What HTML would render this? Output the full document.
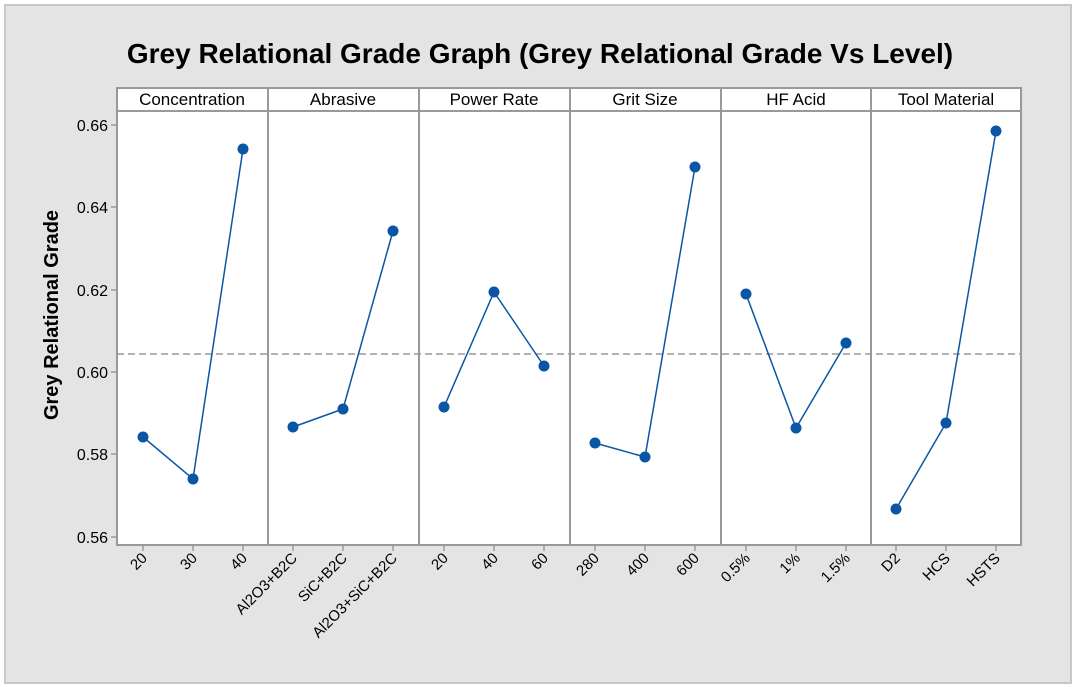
<!DOCTYPE html>
<html><head><meta charset="utf-8"><style>
html,body{margin:0;padding:0;background:#fff;}
svg{display:block;font-family:"Liberation Sans",sans-serif;}
</style></head><body>
<svg width="1076" height="687" viewBox="0 0 1076 687" xmlns="http://www.w3.org/2000/svg">
<rect x="0" y="0" width="1076" height="687" fill="#fff"/>
<rect x="5" y="5" width="1066" height="678" fill="#e4e4e4" stroke="#c8c8c8" stroke-width="2"/>
<text x="540" y="63" text-anchor="middle" font-size="28" font-weight="bold" fill="#000">Grey Relational Grade Graph (Grey Relational Grade Vs Level)</text>
<rect x="117" y="88" width="904" height="457" fill="#fff" stroke="#999" stroke-width="2"/>
<line x1="117" y1="111" x2="1021" y2="111" stroke="#999" stroke-width="2"/>
<g stroke="#999" stroke-width="2">
<line x1="268" y1="88" x2="268" y2="545"/><line x1="419" y1="88" x2="419" y2="545"/>
<line x1="570" y1="88" x2="570" y2="545"/><line x1="721" y1="88" x2="721" y2="545"/>
<line x1="871" y1="88" x2="871" y2="545"/>
</g>
<g font-size="17" text-anchor="middle" fill="#000">
<text x="192" y="105">Concentration</text><text x="343" y="105">Abrasive</text>
<text x="494" y="105">Power Rate</text><text x="645" y="105">Grit Size</text>
<text x="796" y="105">HF Acid</text><text x="946" y="105">Tool Material</text>
</g>
<line x1="117" y1="354" x2="1021" y2="354" stroke="#999" stroke-width="1.5" stroke-dasharray="7,4"/>
<g stroke="#999" stroke-width="1.5">
<line x1="111" y1="125" x2="117" y2="125"/><line x1="111" y1="207" x2="117" y2="207"/>
<line x1="111" y1="290" x2="117" y2="290"/><line x1="111" y1="372" x2="117" y2="372"/>
<line x1="111" y1="454" x2="117" y2="454"/><line x1="111" y1="537" x2="117" y2="537"/>
</g>
<g font-size="16" text-anchor="end" fill="#000">
<text x="108" y="131">0.66</text><text x="108" y="213">0.64</text><text x="108" y="296">0.62</text>
<text x="108" y="378">0.60</text><text x="108" y="460">0.58</text><text x="108" y="543">0.56</text>
</g>
<text transform="translate(58,315) rotate(-90)" text-anchor="middle" font-size="20" font-weight="bold" fill="#000">Grey Relational Grade</text>
<g stroke="#999" stroke-width="1.5">
<line x1="143" y1="545" x2="143" y2="551"/><line x1="193" y1="545" x2="193" y2="551"/><line x1="243" y1="545" x2="243" y2="551"/>
<line x1="293" y1="545" x2="293" y2="551"/><line x1="343" y1="545" x2="343" y2="551"/><line x1="393" y1="545" x2="393" y2="551"/>
<line x1="444" y1="545" x2="444" y2="551"/><line x1="494" y1="545" x2="494" y2="551"/><line x1="544" y1="545" x2="544" y2="551"/>
<line x1="595" y1="545" x2="595" y2="551"/><line x1="645" y1="545" x2="645" y2="551"/><line x1="695" y1="545" x2="695" y2="551"/>
<line x1="746" y1="545" x2="746" y2="551"/><line x1="796" y1="545" x2="796" y2="551"/><line x1="846" y1="545" x2="846" y2="551"/>
<line x1="896" y1="545" x2="896" y2="551"/><line x1="946" y1="545" x2="946" y2="551"/><line x1="996" y1="545" x2="996" y2="551"/>
</g>
<g font-size="15" text-anchor="end" fill="#000">
<text transform="translate(148,559) rotate(-45)">20</text>
<text transform="translate(198,559) rotate(-45)">30</text>
<text transform="translate(248,559) rotate(-45)">40</text>
<text transform="translate(298,559) rotate(-45)">Al2O3+B2C</text>
<text transform="translate(348,559) rotate(-45)">SiC+B2C</text>
<text transform="translate(398,559) rotate(-45)">Al2O3+SiC+B2C</text>
<text transform="translate(449,559) rotate(-45)">20</text>
<text transform="translate(499,559) rotate(-45)">40</text>
<text transform="translate(549,559) rotate(-45)">60</text>
<text transform="translate(600,559) rotate(-45)">280</text>
<text transform="translate(650,559) rotate(-45)">400</text>
<text transform="translate(700,559) rotate(-45)">600</text>
<text transform="translate(751,559) rotate(-45)">0.5%</text>
<text transform="translate(801,559) rotate(-45)">1%</text>
<text transform="translate(851,559) rotate(-45)">1.5%</text>
<text transform="translate(901,559) rotate(-45)">D2</text>
<text transform="translate(951,559) rotate(-45)">HCS</text>
<text transform="translate(1001,559) rotate(-45)">HSTS</text>
</g>
<g fill="none" stroke="#0a56a4" stroke-width="1.5">
<polyline points="143,437 193,479 243,149"/>
<polyline points="293,427 343,409 393,231"/>
<polyline points="444,407 494,292 544,366"/>
<polyline points="595,443 645,457 695,167"/>
<polyline points="746,294 796,428 846,343"/>
<polyline points="896,509 946,423 996,131"/>
</g>
<g fill="#0a56a4">
<circle cx="143" cy="437" r="5.5"/><circle cx="193" cy="479" r="5.5"/><circle cx="243" cy="149" r="5.5"/>
<circle cx="293" cy="427" r="5.5"/><circle cx="343" cy="409" r="5.5"/><circle cx="393" cy="231" r="5.5"/>
<circle cx="444" cy="407" r="5.5"/><circle cx="494" cy="292" r="5.5"/><circle cx="544" cy="366" r="5.5"/>
<circle cx="595" cy="443" r="5.5"/><circle cx="645" cy="457" r="5.5"/><circle cx="695" cy="167" r="5.5"/>
<circle cx="746" cy="294" r="5.5"/><circle cx="796" cy="428" r="5.5"/><circle cx="846" cy="343" r="5.5"/>
<circle cx="896" cy="509" r="5.5"/><circle cx="946" cy="423" r="5.5"/><circle cx="996" cy="131" r="5.5"/>
</g>
</svg>
</body></html>
